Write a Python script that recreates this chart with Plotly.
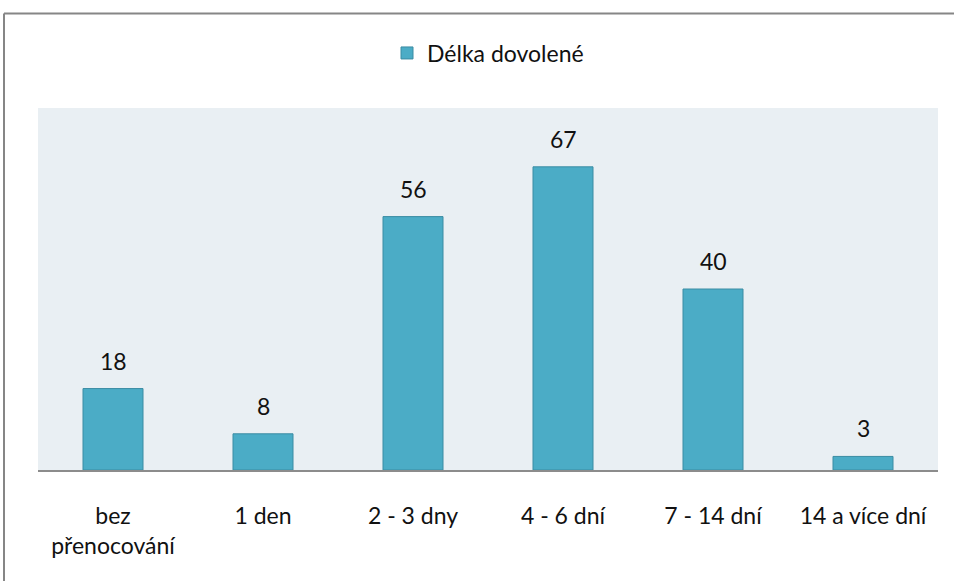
import plotly.graph_objects as go

categories = ["bez<br>přenocování", "1 den", "2 - 3 dny", "4 - 6 dní", "7 - 14 dní", "14 a více dní"]
values = [18, 8, 56, 67, 40, 3]
series_name = "Délka dovolené"

W, H = 954, 581
L, R, T, B = 38, 16, 108, 111
pw, ph = W - L - R, H - T - B
FONT = "Lato, Open Sans, sans-serif"

fig = go.Figure()
fig.add_trace(go.Bar(
    x=categories, y=values, name=series_name,
    marker=dict(color="#4bacc6", line=dict(color="#3b8ca3", width=1)),
    showlegend=True,
))

# value labels above bars
for c, v in zip(categories, values):
    fig.add_annotation(x=c, y=v, text=str(v), showarrow=False, yanchor="middle",
                       yshift=28, font=dict(family=FONT, size=23, color="#111"))

# outer border (top and left edges)
x0 = (4 - L) / pw
y0 = (H - B - 13.5) / ph
fig.add_shape(type="line", xref="paper", yref="paper", x0=x0, x1=1.1, y0=y0, y1=y0,
              line=dict(color="#868686", width=2))
fig.add_shape(type="line", xref="paper", yref="paper", x0=x0, x1=x0, y0=y0, y1=-0.4,
              line=dict(color="#868686", width=2))

fig.update_layout(
    width=W, height=H,
    margin=dict(l=L, r=R, t=T, b=B, autoexpand=False),
    paper_bgcolor="white", plot_bgcolor="#e9eff3",
    bargap=0.6,
    font=dict(family=FONT, size=23, color="#111"),
    legend=dict(orientation="h", x=0.5, xanchor="center", y=(H - B - 53) / ph, yanchor="middle",
                font=dict(size=23), itemwidth=30, bgcolor="rgba(0,0,0,0)"),
    xaxis=dict(showgrid=False, showline=True, linecolor="#8c8c8c", linewidth=2,
               ticks="outside", ticklen=24, tickcolor="rgba(0,0,0,0)",
               tickfont=dict(size=23), fixedrange=True),
    yaxis=dict(range=[0, 80], showgrid=False, showticklabels=False, zeroline=False,
               showline=False, fixedrange=True),
)

fig.write_html("out.html", post_script="document.body.style.margin='0';",
               config={"displayModeBar": False})
